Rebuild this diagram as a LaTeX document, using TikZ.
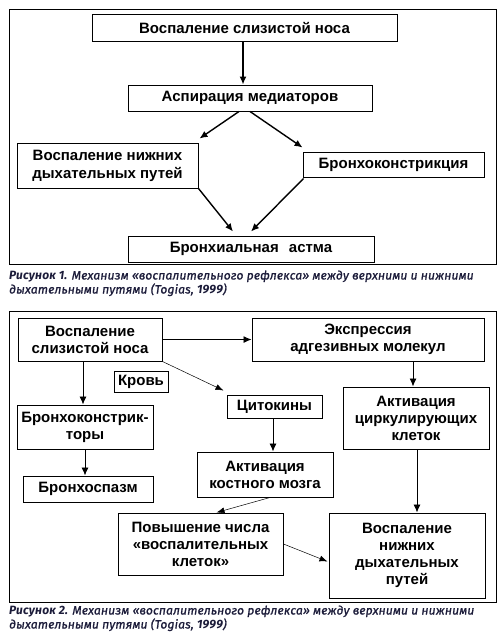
\documentclass[tikz,border=0pt]{standalone}
\usepackage{fontspec}
\setmainfont{Liberation Sans}
\newfontfamily\capfont{Fira Sans}[ItalicFeatures={FakeBold=1.2}, LetterSpace=1.5]
\usetikzlibrary{arrows.meta,calc}
\definecolor{capcol}{RGB}{28,28,58}
\tikzset{
  box/.style={draw, line width=1pt, inner sep=0pt, align=center,
    font=\fontsize{15}{17}\selectfont\bfseries},
  arrthick/.style={line width=1.4pt, -{Latex[length=8pt,width=7pt]}},
  arrmid/.style={line width=0.9pt, -{Latex[length=8pt,width=7pt]}},
  arrthin/.style={line width=0.5pt, -{Latex[length=8pt,width=6pt]}},
  outerframe/.style={draw, line width=1pt},
  captxt/.style={anchor=base west, inner sep=0pt, text=capcol,
    font=\capfont\itshape\fontsize{12}{14}\selectfont},
}
\begin{document}
\begin{tikzpicture}[x=1pt,y=-1pt]
\useasboundingbox (0,0) rectangle (501,637);
% ---------- Figure 1 ----------
\draw[outerframe] (9,9) rectangle (496,264);
\node[box, minimum width=305, minimum height=27] (t1) at (244.5,27.5) {Воспаление слизистой носа};
\node[box, minimum width=244, minimum height=26] (t2) at (250,98) {Аспирация медиаторов};
\node[box, minimum width=181, minimum height=45, font=\fontsize{15}{18}\selectfont\bfseries] (t3) at (107.5,165.5) {Воспаление нижних\\дыхательных путей};
\node[box, minimum width=181, minimum height=25] (t4) at (393.5,164.5) {Бронхоконстрикция};
\node[box, minimum width=246, minimum height=26] (t5) at (251,249) {Бронхиальная\hspace{6pt} астма};
\coordinate (p1) at ($(t1.south)+(-1.5,0)$);
\draw[arrthick] (p1) -- (p1 |- t2.north);
\draw[arrthick] ($(t2.south)+(-11,0)$) -- ($(t3.north east)+(1,-4)$);
\draw[arrthick] (t2.south) -- ($(t4.north west)+(0,-4)$);
\draw[arrthick] (t3.south east) -- ($(t5.north)+(-18,-4)$);
\draw[arrthick] ($(t4.south west)+(1,1)$) -- ($(t5.north)+(0,-4)$);
\node[captxt] (c1a) at (9,279.5) {{\bfseries Рисунок 1.} Механизм «воспалительного рефлекса» между верхними и нижними};
\node[captxt] (c1b) at (9,293.5) {дыхательными путями (Togias, {\bfseries 1999})};
% ---------- Figure 2 ----------
\draw[outerframe] (9,311) rectangle (496,602);
\node[box, minimum width=144, minimum height=43] (bA) at (90,339.5) {Воспаление\\слизистой носа};
\node[box, minimum width=232, minimum height=43] (bB) at (368,339.5) {Экспрессия\\адгезивных молекул};
\node[box, minimum width=54, minimum height=21] (bK) at (141,381.5) {Кровь};
\node[box, minimum width=95, minimum height=23] (bC) at (274.5,406.5) {Цитокины};
\node[box, minimum width=136, minimum height=44] (bD) at (85,427) {Бронхоконстрик-\\торы};
\node[box, minimum width=146, minimum height=62] (bE) at (416,418) {Активация\\циркулирующих\\клеток};
\node[box, minimum width=130, minimum height=26] (bF) at (88,489) {Бронхоспазм};
\node[box, minimum width=136, minimum height=45] (bG) at (265,474.5) {Активация\\костного мозга};
\node[box, minimum width=165, minimum height=62] (bH) at (200.5,544) {Повышение числа\\«воспалительных\\клеток»};
\node[box, minimum width=156, minimum height=85] (bI) at (407,555.5) {Воспаление\\нижних\\дыхательных\\путей};
\draw[arrmid] (bA.east) -- (bB.west);
\draw[arrthin] (bA.south east) -- ($(bC.north west)+(-3,-4)$);
\coordinate (q1) at ($(bA.south)+(-7,0)$);
\draw[arrmid] (q1) -- (q1 |- bD.north);
\coordinate (q2) at ($(bE.north)+(-3,0)$);
\draw[arrmid] (q2 |- bB.south) -- (q2);
\draw[arrmid] (bD.south) -- (bD.south |- bF.north);
\coordinate (q3) at ($(bC.south)+(-1.5,0)$);
\draw[arrmid] (q3) -- (q3 |- bG.north);
\draw[arrthin] ($(bG.south)+(5,0)$) -- ($(bH.north)+(16,0)$);
\coordinate (q4) at ($(bE.south)+(1,0)$);
\draw[arrmid] (q4) -- (q4 |- bI.north);
\draw[arrthin] (bH.east) -- ($(bI.west)+(-1,6)$);
\node[captxt] (c2a) at (9,614.5) {{\bfseries Рисунок 2.} Механизм «воспалительного рефлекса» между верхними и нижними};
\node[captxt] (c2b) at (9,628.5) {дыхательными путями (Togias, {\bfseries 1999})};
\end{tikzpicture}
\end{document}
